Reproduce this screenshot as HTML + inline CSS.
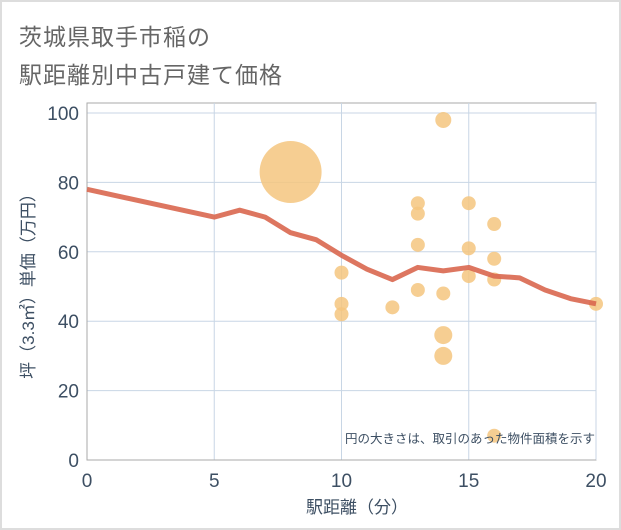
<!DOCTYPE html>
<html><head><meta charset="utf-8">
<style>
body{margin:0;background:#fff;}
#wrap{position:relative;width:621px;height:530px;box-sizing:border-box;border:2px solid #ddd;background:#fff;font-family:"Liberation Sans","Noto Sans CJK JP",sans-serif;}
.title{position:absolute;left:17px;font-size:23px;color:#666;letter-spacing:1px;}
</style></head>
<body>
<div id="wrap">
<div class="title" style="top:16px">茨城県取手市稲の</div>
<div class="title" style="top:54px">駅距離別中古戸建て価格</div>
<svg id="chart" width="621" height="530" style="position:absolute;left:-2px;top:-2px"></svg>
</div>
<script>
const xTicks=[0,5,10,15,20];
const yTicks=[0,20,40,60,80,100];
const bubbleX=[8,14,13,13,13,13,15,15,15,16,16,16,16,10,10,10,12,14,14,14,20];
const bubbleY=[83,98,74,71,62,49,74,61,53,68,58,52,7,54,45,42,44,48,36,30,45];
const bubbleR=[31,8,7,7,7,7,7,7,7,7,7,7,7,7,7,7,7,7,9,9,7];
const lineX=[0,5,6,7,8,9,10,11,12,13,14,15,16,17,18,19,20];
const lineY=[78,70,72,70,65.5,63.5,59,55,52,55.5,54.5,55.5,53,52.5,49,46.5,45];
const NS="http://www.w3.org/2000/svg";
const svg=document.getElementById('chart');
const L=87,R=596,T=103,B=460;
const sx=v=>L+(v-0)/20*(R-L);
const sy=v=>460-v/100*347;
function mk(t,a){const e=document.createElementNS(NS,t);for(const k in a)e.setAttribute(k,a[k]);svg.appendChild(e);return e;}
let bg=mk('rect',{x:L,y:T,width:R-L,height:B-T,fill:'#fff',stroke:'#aaa'});


xTicks.forEach(t=>{
 let g=mk('line',{x1:sx(t),x2:sx(t),y1:T,y2:B,stroke:'#c8d6e5'});
 
 
 let tx=mk('text',{x:sx(t),y:487,'text-anchor':'middle','font-size':19,fill:'#3d4f63'});
 tx.textContent=t;
 
 
});
yTicks.forEach(t=>{
 let g=mk('line',{x1:L,x2:R,y1:sy(t),y2:sy(t),stroke:'#c8d6e5'});
 
 
 let tx=mk('text',{x:79,y:sy(t)+7,'text-anchor':'end','font-size':19,fill:'#3d4f63'});
 tx.textContent=t;
 
 
});
let ax=mk('path',{d:`M${L},${T}V${B}H${R}`,stroke:'#aaa',fill:'none'});


bubbleX.forEach((x,i)=>{
 let c=mk('circle',{cx:sx(x),cy:sy(bubbleY[i]),r:bubbleR[i],fill:'#f5c57f',opacity:0.85});
 
 
});
let pts=lineX.map((x,i)=>sx(x)+','+sy(lineY[i])).join(' ');
let pl=mk('polyline',{points:pts,fill:'none',stroke:'#d9674f',opacity:0.9,'stroke-width':5,'stroke-linejoin':'round'});


let note=mk('text',{x:595,y:443,'text-anchor':'end','font-size':12.5,fill:'#3d4f63'});
note.textContent='円の大きさは、取引のあった物件面積を示す';


let xt=mk('text',{x:357,y:513,'text-anchor':'middle','font-size':17,fill:'#3d4f63'});
xt.textContent='駅距離（分）';


let yt=mk('text',{x:0,y:0,'text-anchor':'middle','font-size':17,fill:'#3d4f63',transform:'translate(34,282) rotate(-90)'});
yt.textContent='坪（3.3㎡）単価（万円）';


</script>
</body></html>
